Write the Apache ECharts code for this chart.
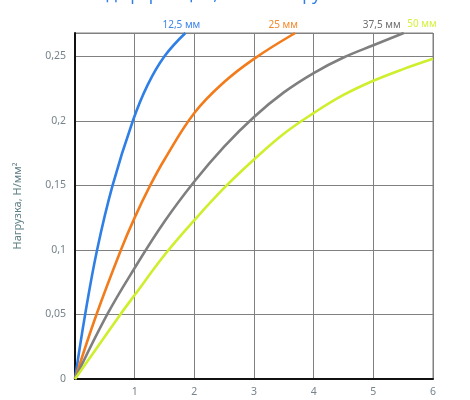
<!DOCTYPE html>
<html>
<head>
<meta charset="utf-8">
<script src="https://cdn.jsdelivr.net/npm/echarts@6/dist/echarts.min.js"></script>
<style>
html,body{margin:0;padding:0;background:#fff;}
#chart{width:470px;height:400px;}
</style>
</head>
<body>
<div id="chart"></div>
<script>
// Deflection (mm) vs load (N/mm²) per thickness
const seriesNames = ['12,5 мм', '25 мм', '37,5 мм', '50 мм'];
const s125 = [[0,0],[0.17,0.05],[0.37,0.1],[0.63,0.15],[0.97,0.2],[1.22,0.228],[1.5,0.25],[1.85,0.268]];
const s25 = [[0,0],[0.36,0.05],[0.77,0.1],[1,0.125],[1.25,0.149],[1.5,0.17],[2,0.206],[2.5,0.23],[3,0.248],[3.69,0.268]];
const s375 = [[0,0],[0.54,0.05],[1,0.086],[1.5,0.122],[2,0.153],[2.5,0.18],[3,0.203],[3.5,0.222],[4,0.237],[4.5,0.249],[5,0.2585],[5.51,0.268]];
const s50 = [[0,0],[0.76,0.05],[1,0.065],[1.5,0.096],[2,0.123],[2.5,0.148],[3,0.17],[3.5,0.19],[4,0.206],[4.5,0.22],[5,0.231],[5.5,0.24],[6,0.248]];
const xTicks = [0,1,2,3,4,5,6];
const yTicks = [0,0.05,0.1,0.15,0.2,0.25];
const titleText = 'Зависимость деформации, мм от нагрузки';
const yName = 'Нагрузка, Н/мм²';

const colors = ['#2f7fe6', '#f27c1c', '#7f7f7f', '#cdef2c'];
const labelColors = ['#3b86e8', '#f28a2e', '#6f6f6f', '#d6f23c'];
const labelOffsets = [[-4,-3],[-12,-3],[-22,-3],[-11,-30]];
const font = '"Noto Sans", "Open Sans", sans-serif';

const chart = echarts.init(document.getElementById('chart'), null, {renderer:'canvas'});
const datas = [s125, s25, s375, s50];
chart.setOption({
  animation: false,
  title: {
    text: titleText, left: -10, top: -18,
    textStyle: {color: '#2f7fe6', fontSize: 17, fontWeight: 'normal', fontFamily: font}
  },
  grid: {left: 75, right: 37, top: 33, bottom: 21, show: true, borderColor: '#808080', borderWidth: 1},
  xAxis: {
    type: 'value', min: xTicks[0], max: xTicks[xTicks.length-1], interval: 1,
    axisLine: {show: true, lineStyle: {color: '#111', width: 2}},
    axisTick: {show: false},
    splitLine: {show: true, lineStyle: {color: '#808080', width: 1}},
    axisLabel: {showMinLabel: false, color: '#76838a', fontSize: 10.5, margin: 8, fontFamily: font}
  },
  yAxis: {
    type: 'value', min: yTicks[0], max: 0.268, interval: 0.05,
    name: yName, nameLocation: 'middle', nameGap: 52, nameRotate: 90,
    nameTextStyle: {color: '#5f7f86', fontSize: 11, fontFamily: font},
    axisLine: {show: true, lineStyle: {color: '#111', width: 2}},
    axisTick: {show: false},
    splitLine: {show: true, lineStyle: {color: '#808080', width: 1}},
    axisLabel: {
      color: '#76838a', fontSize: 10.5, margin: 9, fontFamily: font,
      formatter: v => yTicks.indexOf(Math.round(v*100)/100) >= 0 ? String(Math.round(v*100)/100).replace('.', ',') : ''
    }
  },
  series: datas.map((d, i) => ({
    type: 'line', name: seriesNames[i], data: d,
    smooth: 0.4, showSymbol: false, symbol: 'none',
    lineStyle: {color: colors[i], width: 2.6},
    itemStyle: {color: colors[i]},
    endLabel: {
      show: true, formatter: seriesNames[i], align: 'center', verticalAlign: 'bottom',
      distance: 0, offset: labelOffsets[i], color: labelColors[i], fontSize: 10, fontFamily: font
    }
  }))
});
</script>
</body>
</html>
